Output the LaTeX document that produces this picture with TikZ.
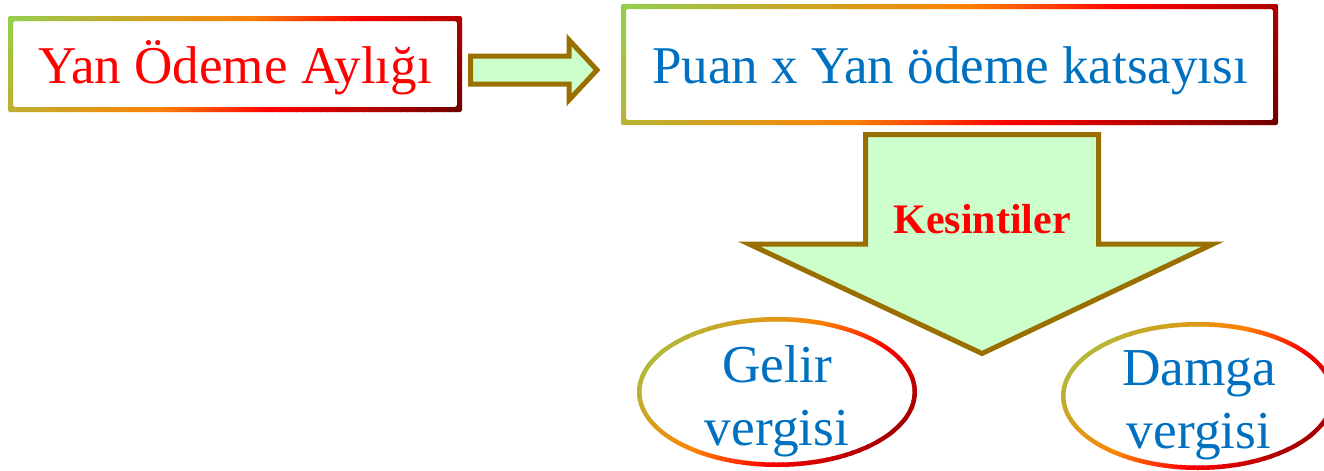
\documentclass[tikz,border=0pt]{standalone}
\usepackage{fontspec}
\setmainfont{Liberation Serif}
\definecolor{gGreen}{RGB}{146,208,80}
\definecolor{gOrange}{RGB}{255,128,0}
\definecolor{gRed}{RGB}{255,0,0}
\definecolor{gDark}{RGB}{110,0,0}
\definecolor{arrowLine}{RGB}{153,112,0}
\definecolor{arrowFill}{RGB}{204,255,204}
\definecolor{txtBlue}{RGB}{0,112,192}
\definecolor{txtRed}{RGB}{255,0,0}
\newcommand{\gradstrips}[4]{%
  \pgfmathsetmacro\gx{#1}%
  \pgfmathsetmacro\gy{#2}%
  \pgfmathsetmacro\gstep{((#3-#1)+(#4-#2))/90}%
  \pgfmathsetmacro\ya{#2-4}%
  \pgfmathsetmacro\yb{#4+4}%
  \foreach \i in {0,...,89}{%
    \pgfmathsetmacro\myt{(\i+0.5)/90}%
    \ifdim\myt pt<0.45pt
      \pgfmathsetmacro\pc{\myt/0.45*100}\colorlet{gc}{gOrange!\pc!gGreen}%
    \else\ifdim\myt pt<0.65pt
      \pgfmathsetmacro\pc{(\myt-0.45)/0.2*100}\colorlet{gc}{gRed!\pc!gOrange}%
    \else
      \pgfmathsetmacro\pc{(\myt-0.65)/0.35*100}\colorlet{gc}{gDark!\pc!gRed}%
    \fi\fi
    \pgfmathsetmacro\ca{\gx+\gy+\gstep*\i-0.6}%
    \pgfmathsetmacro\cb{\gx+\gy+\gstep*(\i+1)+0.6}%
    \fill[gc] ({\ca-\ya},\ya) -- ({\cb-\ya},\ya) -- ({\cb-\yb},\yb) -- ({\ca-\yb},\yb) -- cycle;
  }%
}
\tikzset{
  blockarrow/.style={draw=arrowLine, fill=arrowFill, line width=3.75pt, line join=miter, miter limit=20},
  boxtext/.style={anchor=base, inner sep=0pt, font=\fontsize{39.8}{47}\selectfont},
  elltext/.style={anchor=base, inner sep=0pt, text=txtBlue, font=\fontsize{40}{47.25}\selectfont},
}
\begin{document}
\begin{tikzpicture}[x=0.75pt, y=-0.75pt]
\useasboundingbox (0,0) rectangle (1324,471);
\clip (0,0) rectangle (1324,471);

% right block arrow
\draw[blockarrow] (470.5,56) -- (569,56) -- (569,40) -- (597,70) -- (569,100) -- (569,84) -- (470.5,84) -- cycle;

% down block arrow
\draw[blockarrow] (865.5,134.5) -- (1098.5,134.5) -- (1098.5,244) -- (1213,244) -- (982,353.5) -- (749,244) -- (865.5,244) -- cycle;

% box 1 border
\begin{scope}[even odd rule, rounded corners=1.5pt]
\clip (8,16) rectangle (462,112) (13,21) rectangle (457,107);
\gradstrips{8}{16}{462}{112}
\end{scope}

% box 2 border
\begin{scope}[even odd rule, rounded corners=1.5pt]
\clip (621,4) rectangle (1278,125) (626,9) rectangle (1273,120);
\gradstrips{621}{4}{1278}{125}
\end{scope}

% ellipse 1 border
\begin{scope}[even odd rule]
\clip (777,392) ellipse (140 and 75) (777,392) ellipse (135.5 and 70.5);
\gradstrips{637}{317}{917}{467}
\end{scope}

% ellipse 2 border
\begin{scope}[even odd rule]
\clip (1198,396) ellipse (137 and 74) (1198,396) ellipse (132.5 and 69.5);
\gradstrips{1061}{322}{1335}{470}
\end{scope}

% texts
\node[boxtext, text=txtRed] (t1) at (235,83) {Yan Ödeme Aylığı};
\node[boxtext, text=txtBlue] (t2) at (950,83) {Puan x Yan ödeme katsayısı};
\node[anchor=base, inner sep=0pt, text=txtRed, font=\bfseries\fontsize{31.5}{38}\selectfont] (kes) at (982,233) {Kesintiler};
\node[elltext] (gelir) at (777,382) {\begin{tabular}[t]{@{}c@{}}Gelir\\vergisi\end{tabular}};
\node[elltext] (damga) at (1199,385) {\begin{tabular}[t]{@{}c@{}}Damga\\vergisi\end{tabular}};
\end{tikzpicture}
\end{document}
